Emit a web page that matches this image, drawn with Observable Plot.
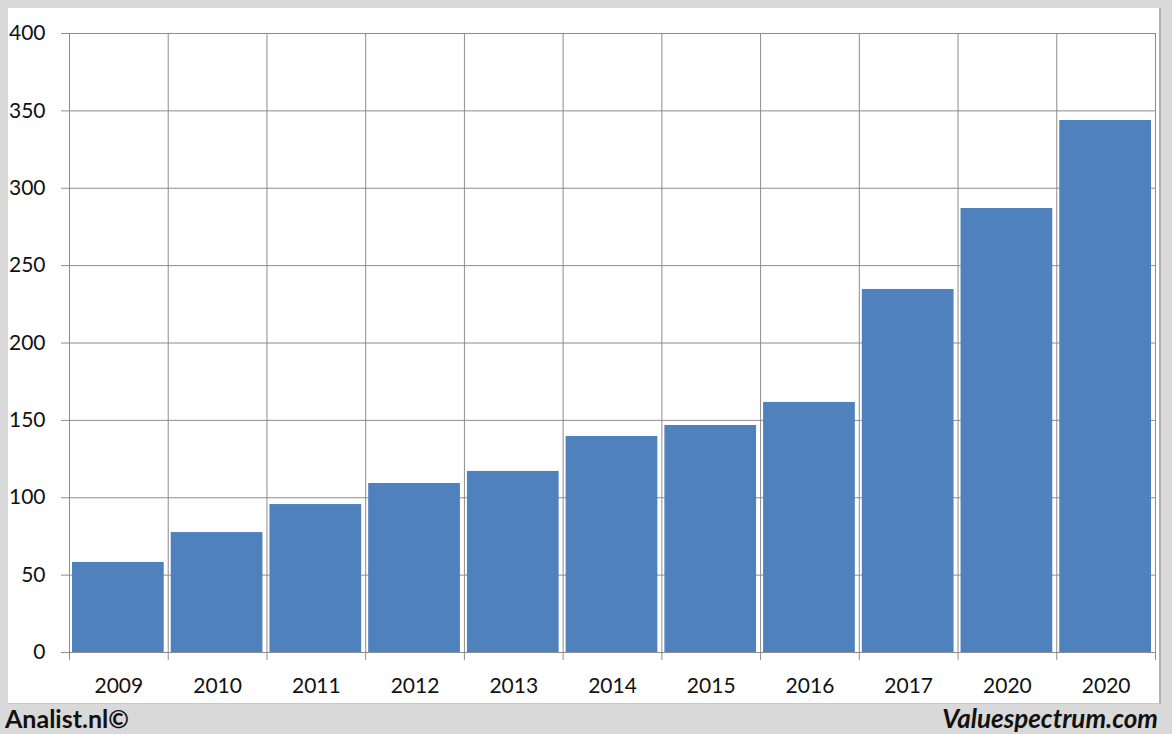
<!DOCTYPE html>
<html><head><meta charset="utf-8">
<script src="https://cdn.jsdelivr.net/npm/d3@7"></script>
<script src="https://cdn.jsdelivr.net/npm/@observablehq/plot@0.6"></script>
<style>
body{margin:0;}
#wrap{position:relative;width:1172px;height:734px;background:#d9d9d9;overflow:hidden;font-family:Lato,"Open Sans",sans-serif;}
#panel{position:absolute;left:8px;top:8px;width:1151px;height:695px;background:#fff;border-right:2px solid #b0b0b0;border-bottom:1px solid #c8c8c8;}
#chart{position:absolute;left:0;top:0;}
.foot{position:absolute;top:703px;font-weight:bold;font-size:25px;color:#111;line-height:30px;}
#fl{left:5px;}
#fr{right:14px;font-style:italic;font-size:26px;}
</style></head>
<body>
<div id="wrap"><div id="panel"></div><div id="chart"></div>
<div class="foot" id="fl">Analist.nl©</div>
<div class="foot" id="fr">Valuespectrum.com</div>
</div>
<script>
const years = ["2009","2010","2011","2012","2013","2014","2015","2016","2017","2020","2020"];
const values = [58.2, 77.5, 95.6, 109.2, 117, 139.6, 146.7, 161.6, 234.6, 286.9, 343.8];
const yTicks = [0,50,100,150,200,250,300,350,400];

const data = years.map((y,i)=>({i, year:y, value:values[i]}));
const bounds = d3.range(years.length+1);
const centers = years.map((_,i)=>i+0.5);
const grid = "#8c8c8c";

const chart = Plot.plot({
  width:1172, height:700,
  marginLeft:69, marginRight:17, marginTop:33, marginBottom:48,
  style:{background:"transparent", fontFamily:"Lato, 'Open Sans', sans-serif", color:"#111"},
  x:{domain:[0, years.length], axis:null},
  y:{domain:[0,400], axis:null},
  marks:[
    Plot.ruleY(yTicks, {stroke:grid, strokeWidth:1}),
    Plot.ruleX(bounds, {y1:0, y2:400, stroke:grid, strokeWidth:1}),
    Plot.rectY(data, {x:"i", interval:1, y:"value", fill:"#4F81BD", insetLeft:3, insetRight:4}),
    Plot.axisY({ticks:yTicks, tickSize:8, tickPadding:16, fontSize:21, stroke:grid, tickFormat:d=>d, label:null}),
    Plot.axisX({ticks:bounds, tickSize:8, tickFormat:()=>"", stroke:grid, label:null}),
    Plot.text(centers, {x:d=>d, frameAnchor:"bottom", dy:40, text:(d,i)=>years[i], fontSize:21, fill:"#111"})
  ]
});
document.getElementById("chart").appendChild(chart);
</script>
</body></html>
